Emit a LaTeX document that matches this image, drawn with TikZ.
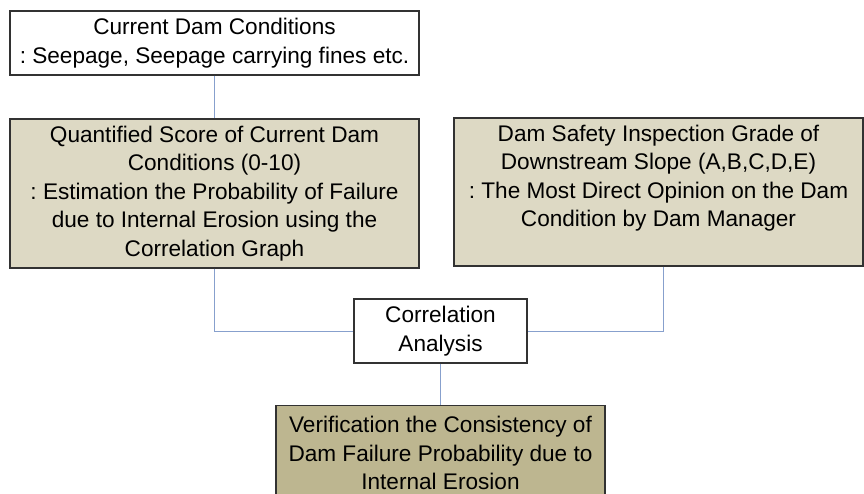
\documentclass[tikz,border=0pt]{standalone}
\usepackage{fontspec}
\setmainfont{Liberation Sans}
\usetikzlibrary{positioning}

\definecolor{linkblue}{RGB}{135,160,205}
\definecolor{lighttan}{RGB}{221,217,196}
\definecolor{darktan}{RGB}{189,182,144}
\definecolor{edgegray}{RGB}{50,50,50}

\begin{document}
\begin{tikzpicture}[x=1pt,y=-1pt,
  box/.style={draw=edgegray,line width=1.2pt,align=center,inner sep=0pt,
    font=\fontsize{22.6}{28.5}\selectfont},
  link/.style={draw=linkblue,line width=1pt}]
\useasboundingbox (0,0) rectangle (864,494);
\fill[white] (0,0) rectangle (864,494);
\clip (0,0) rectangle (864,494);

% top: observed conditions
\node[box,fill=white,minimum width=409pt,minimum height=64pt] (cond) at (214.5,43)
  {Current Dam Conditions\\:\ Seepage, Seepage carrying fines etc.};

% the two inputs
\node[box,fill=lighttan,minimum width=409pt,minimum height=149pt] (score) at (214.5,193.5)
  {Quantified Score of Current Dam\\Conditions (0-10)\\:\ Estimation the Probability of Failure\\due to Internal Erosion using the\\Correlation Graph};
\node[box,fill=lighttan,minimum width=409pt,minimum height=148pt] (grade) at (658.5,192)
  {Dam Safety Inspection Grade of\\Downstream Slope (A,B,C,D,E)\\:\ The Most Direct Opinion on the Dam\\Condition by Dam Manager\\[4pt]\mbox{}};

% analysis and result
\node[box,fill=white,minimum width=173pt,minimum height=64pt] (corr) at (440.5,331)
  {Correlation\\Analysis};
\node[box,fill=darktan,minimum width=329pt,minimum height=95pt,anchor=north] (verif) at (440.5,405)
  {Verification the Consistency of\\Dam Failure Probability due to\\Internal Erosion};

\draw[link] (cond) -- (score);
\draw[link] (score.south) |- (corr.west);
\draw[link] ([xshift=4.5pt]grade.south) |- (corr.east);
\draw[link] (corr) -- (verif);
\end{tikzpicture}
\end{document}
